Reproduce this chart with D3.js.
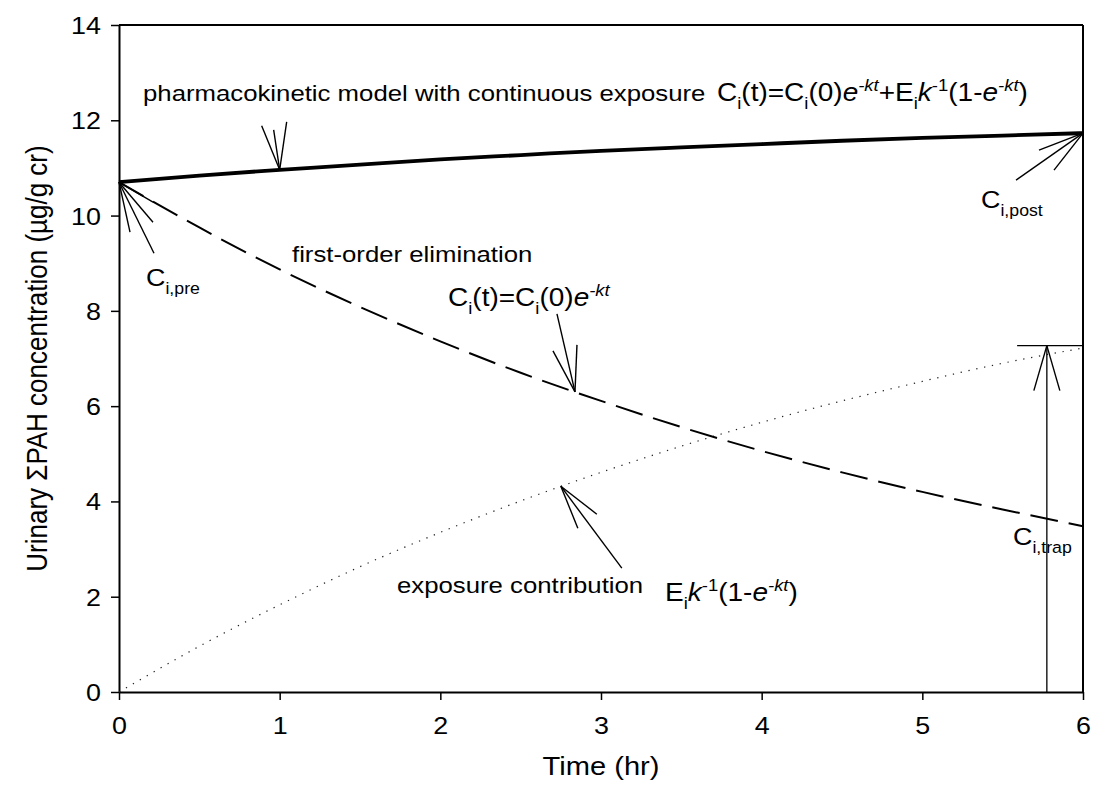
<!DOCTYPE html>
<html><head><meta charset="utf-8">
<script src="https://cdn.jsdelivr.net/npm/d3@7"></script>
<style>
body{margin:0;background:#fff}
svg{display:block}
text{font-family:"Liberation Sans",Arial,sans-serif;fill:#000}
</style>
</head><body>
<svg id="chart" width="1094" height="804"></svg>
<script>
// Sampling times (hr)
const time = [0, 0.5, 1, 1.5, 2, 2.5, 3, 3.5, 4, 4.5, 5, 5.5, 6];
// Pharmacokinetic model with continuous exposure (µg/g cr)
const continuous = [10.70, 10.84, 10.96, 11.07, 11.18, 11.27, 11.36, 11.43, 11.50, 11.57, 11.63, 11.68, 11.73];
// First-order elimination only
const elimination = [10.70, 9.75, 8.87, 8.08, 7.36, 6.70, 6.11, 5.56, 5.06, 4.61, 4.20, 3.83, 3.48];
// Exposure contribution only
const exposure = [0.00, 0.96, 1.83, 2.63, 3.35, 4.01, 4.61, 5.16, 5.66, 6.11, 6.52, 6.90, 7.22];
// Axis ticks
const xTicks = [0, 1, 2, 3, 4, 5, 6];
const yTicks = [0, 2, 4, 6, 8, 10, 12, 14];
// C_i,trap marker: time and height
const trapTime = 5.775;
const trapValue = 7.27;
const trapCapStart = 5.59;

const SX = 1.12; // horizontal stretch of the lettering
const svg = d3.select("#chart");
const margin = {left: 119, right: 1094 - 1083, top: 25, bottom: 804 - 692};
const W = 1094 - margin.left - margin.right;
const H = 804 - margin.top - margin.bottom;

const x = d3.scaleLinear().domain([0, 6]).range([margin.left, margin.left + W]);
const y = d3.scaleLinear().domain([0, 14]).range([margin.top + H, margin.top]);

const g = svg.append("g");

// Frame: top and right borders
g.append("line").attr("x1", x(0)).attr("x2", x(6)).attr("y1", y(14)).attr("y2", y(14))
  .attr("stroke", "#000").attr("stroke-width", 2);
g.append("line").attr("x1", x(6)).attr("x2", x(6)).attr("y1", y(14)).attr("y2", y(0))
  .attr("stroke", "#000").attr("stroke-width", 2);

// Axes
const xAxis = g.append("g").attr("transform", `translate(0,${y(0)})`)
  .call(d3.axisBottom(x).tickValues(xTicks).tickSize(8).tickSizeOuter(0).tickFormat(d3.format("d")));
const yAxis = g.append("g").attr("transform", `translate(${x(0)},0)`)
  .call(d3.axisLeft(y).tickValues(yTicks).tickSize(8).tickSizeOuter(0).tickFormat(d3.format("d")));
[xAxis, yAxis].forEach(a => {
  a.select(".domain").attr("stroke", "#000").attr("stroke-width", 2);
  a.selectAll(".tick line").attr("stroke", "#000").attr("stroke-width", 1.5);
});
xAxis.selectAll(".tick text").attr("x", null).attr("y", null).attr("dy", null)
  .attr("transform", `translate(0,42) scale(${SX},1)`)
  .style("font-size", "24px").attr("text-anchor", "middle");
yAxis.selectAll(".tick text").attr("x", null).attr("dy", null)
  .attr("transform", `translate(-18,8.5) scale(${SX},1)`)
  .style("font-size", "24px").attr("text-anchor", "end");

// Axis titles
g.append("text").attr("transform", `translate(${(x(0) + x(6)) / 2},775) scale(${SX},1)`)
  .attr("text-anchor", "middle").style("font-size", "26px").text("Time (hr)");
g.append("text").attr("transform", `translate(47,${(y(0) + y(14)) / 2}) scale(${SX},1) rotate(-90)`)
  .attr("text-anchor", "middle").style("font-size", "26px").text("Urinary \u03A3PAH concentration (\u00B5g/g cr)");

// Curves
const pts = vals => time.map((t, i) => [t, vals[i]]);
const line = d3.line().x(d => x(d[0])).y(d => y(d[1])).curve(d3.curveNatural);

g.append("path").attr("d", line(pts(exposure))).attr("fill", "none")
  .attr("stroke", "#222").attr("stroke-width", 1.2).attr("stroke-dasharray", "1.3,6.7");
g.append("path").attr("d", line(pts(elimination))).attr("fill", "none")
  .attr("stroke", "#000").attr("stroke-width", 2).attr("stroke-dasharray", "28,11");
g.append("path").attr("d", line(pts(continuous))).attr("fill", "none")
  .attr("stroke", "#000").attr("stroke-width", 3.8);

// C_i,trap bar with its cap
g.append("line").attr("x1", x(trapTime)).attr("x2", x(trapTime)).attr("y1", y(0)).attr("y2", y(trapValue))
  .attr("stroke", "#000").attr("stroke-width", 1.3);
g.append("line").attr("x1", x(trapCapStart)).attr("x2", x(6)).attr("y1", y(trapValue)).attr("y2", y(trapValue))
  .attr("stroke", "#000").attr("stroke-width", 1.3);

// Annotation arrows: tip in data units, strokes as pixel offsets from the tip
const arrows = [
  {t: 0, v: 10.70, tails: [[11, 50], [34, 40], [35, 71], [34, 20]]},
  {t: 1, v: 10.96, tails: [[-18, -44], [-6, -40], [7, -48]]},
  {t: 2.838, v: 6.30, tails: [[-22, -41], [-18, -78], [2, -47]]},
  {t: 2.75, v: 4.32, tails: [[61, 82], [36, 28], [17, 42]]},
  {t: 6, v: 11.73, tails: [[-67, 47], [-44, 17], [-29, 37]]},
  {t: trapTime, v: trapValue, tails: [[-13, 45], [13, 45]]}
];
arrows.forEach(a => {
  const tx = x(a.t), ty = y(a.v);
  a.tails.forEach(([dx, dy]) => {
    g.append("line").attr("x1", tx).attr("y1", ty).attr("x2", tx + dx).attr("y2", ty + dy)
      .attr("stroke", "#000").attr("stroke-width", 1.4);
  });
});

// Rich text: parts are [string, style] with style in "", "sub", "sup", "it", "supit"
function rich(px, py, parts, size) {
  const t = g.append("text").attr("transform", `translate(${px},${py}) scale(${SX},1)`)
    .style("font-size", size + "px");
  let shift = 0;
  parts.forEach(([s, st]) => {
    const ts = t.append("tspan").text(s);
    let target = 0, fs = size;
    if (st === "sub") { target = size * 0.33; fs = size * 0.66; }
    if (st === "sup" || st === "supit") { target = -size * 0.42; fs = size * 0.66; }
    if (st === "it" || st === "supit") ts.style("font-style", "italic");
    ts.style("font-size", fs + "px").attr("dy", target - shift);
    shift = target;
  });
  return t;
}

const fs = 23, fm = 25;
rich(143, 101, [["pharmacokinetic model with continuous exposure", ""]], fs);
rich(717, 101, [["C", ""], ["i", "sub"], ["(t)=C", ""], ["i", "sub"], ["(0)", ""], ["e", "it"], ["-kt", "supit"],
  ["+E", ""], ["i", "sub"], ["k", "it"], ["-1", "sup"], ["(1-", ""], ["e", "it"], ["-kt", "supit"], [")", ""]], fm);
rich(292, 262, [["first-order elimination", ""]], fs);
rich(448, 306, [["C", ""], ["i", "sub"], ["(t)=C", ""], ["i", "sub"], ["(0)", ""], ["e", "it"], ["-kt", "supit"]], fm);
rich(397, 593, [["exposure contribution", ""]], fs);
rich(665, 601, [["E", ""], ["i", "sub"], ["k", "it"], ["-1", "sup"], ["(1-", ""], ["e", "it"], ["-kt", "supit"], [")", ""]], fm);
rich(146, 286, [["C", ""], ["i,pre", "sub"]], 24);
rich(981, 208, [["C", ""], ["i,post", "sub"]], 24);
rich(1013, 545, [["C", ""], ["i,trap", "sub"]], 24);
</script>
</body></html>
